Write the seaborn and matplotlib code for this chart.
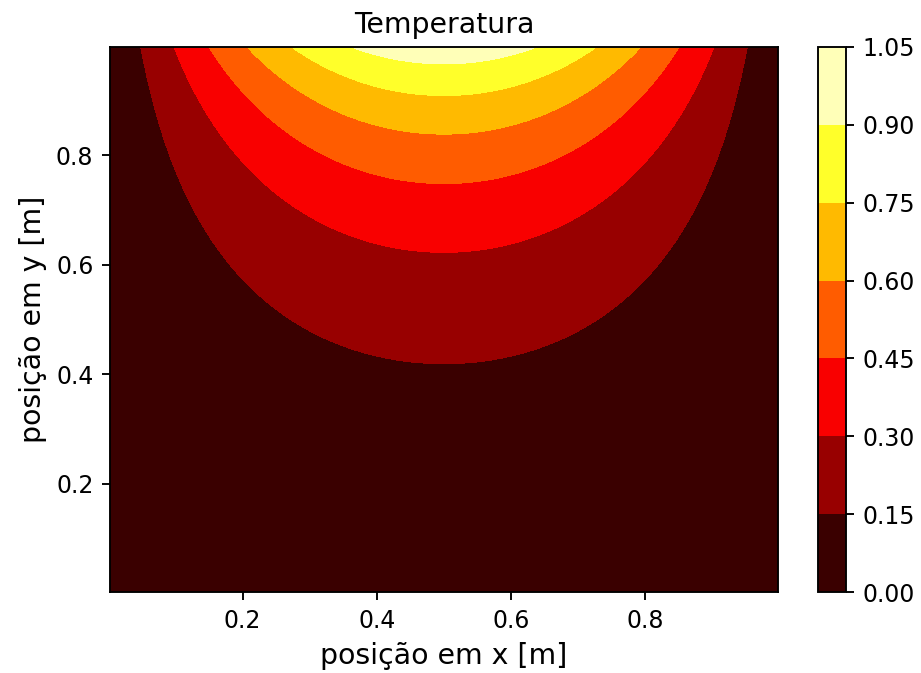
import numpy as np
import matplotlib
matplotlib.use("Agg")
import matplotlib.pyplot as plt
import seaborn as sns

# Interior nodes of the unit plate (boundary nodes excluded)
n_nodes = 400
x_nodes = np.linspace(0.0, 1.0, n_nodes + 2)[1:-1]
y_nodes = np.linspace(0.0, 1.0, n_nodes + 2)[1:-1]

# Contour levels of the temperature field
levels = [0.00, 0.15, 0.30, 0.45, 0.60, 0.75, 0.90, 1.05]

x_ticks = [0.2, 0.4, 0.6, 0.8]
y_ticks = [0.2, 0.4, 0.6, 0.8]

title = "Temperatura"
x_label = "posição em x [m]"
y_label = "posição em y [m]"

# Steady-state temperature: T = sin(pi x) on the top edge, T = 0 on the others
X, Y = np.meshgrid(x_nodes, y_nodes)
T = np.sin(np.pi * X) * np.sinh(np.pi * Y) / np.sinh(np.pi)

W, H, DPI = 921, 673, 170
fig = plt.figure(figsize=(W / DPI, H / DPI), dpi=DPI)
ax = fig.add_axes([110 / W, 1 - 592 / H, 668 / W, 545 / H])
cax = fig.add_axes([818 / W, 1 - 592 / H, 28 / W, 545 / H])

cmap = sns.color_palette("hot", as_cmap=True)
cs = ax.contourf(X, Y, T, levels=levels, cmap=cmap,
                 vmin=levels[0], vmax=levels[-1])

ax.set_xticks(x_ticks)
ax.set_yticks(y_ticks)
ax.set_xlim(x_nodes[0], x_nodes[-1])
ax.set_ylim(y_nodes[0], y_nodes[-1])
ax.set_title(title, fontsize=12)
ax.set_xlabel(x_label, fontsize=12)
ax.set_ylabel(y_label, fontsize=12)

cbar = fig.colorbar(cs, cax=cax)
cbar.set_ticks(levels)
cbar.ax.set_yticklabels([f"{v:.2f}" for v in levels])

fig.savefig("out.png", dpi=DPI)
